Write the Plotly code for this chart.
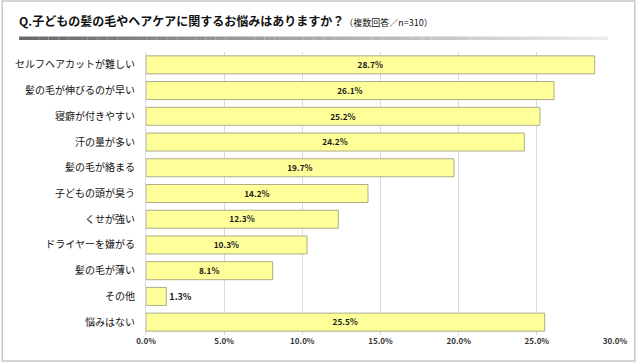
import plotly.graph_objects as go

categories = [
    "セルフヘアカットが難しい",
    "髪の毛が伸びるのが早い",
    "寝癖が付きやすい",
    "汗の量が多い",
    "髪の毛が絡まる",
    "子どもの頭が臭う",
    "くせが強い",
    "ドライヤーを嫌がる",
    "髪の毛が薄い",
    "その他",
    "悩みはない",
]
values = [28.7, 26.1, 25.2, 24.2, 19.7, 14.2, 12.3, 10.3, 8.1, 1.3, 25.5]
tick_vals = [0, 5, 10, 15, 20, 25, 30]
tick_text = ["<b>0.0%</b>", "<b>5.0%</b>", "<b>10.0%</b>", "<b>15.0%</b>",
             "<b>20.0%</b>", "<b>25.0%</b>", "<b>30.0%</b>"]

W, H = 640, 362
ML, MR, MT, MB = 146, 21, 52, 27
PW, PH = W - ML - MR, H - MT - MB

def px(x):
    return (x - ML) / PW

def py(y):
    return (H - MB - y) / PH

FONT = "Noto Sans CJK JP"

fig = go.Figure(
    go.Bar(
        x=values,
        y=categories,
        orientation="h",
        marker=dict(color="#FFFF99", line=dict(color="#ADAD8A", width=1)),
        text=[f"<b>{v:.1f}%</b>" for v in values],
        textposition=["outside" if v < 3 else "inside" for v in values],
        insidetextanchor="middle",
        textfont=dict(family=FONT, size=9, color="#1a1a1a"),
        cliponaxis=False,
        width=0.7,
    )
)

shapes = []
# gradient rule under the title
x0, x1 = 18, 612
n = 60
for i in range(n):
    a = x0 + (x1 - x0) * i / n
    b = x0 + (x1 - x0) * (i + 1) / n
    t = i / (n - 1)
    g = int(105 + (235 - 105) * t)
    shapes.append(dict(type="rect", xref="paper", yref="paper",
                       x0=px(a), x1=px(b), y0=py(40), y1=py(36.5),
                       line=dict(width=0), fillcolor=f"rgb({g},{g},{g})", layer="below"))
# outer frame
shapes.append(dict(type="rect", xref="paper", yref="paper",
                   x0=px(1), x1=px(639), y0=py(361), y1=py(1),
                   line=dict(color="#C8C8C8", width=1.5), fillcolor="rgba(0,0,0,0)"))

fig.update_layout(
    width=W, height=H,
    margin=dict(l=ML, r=MR, t=MT, b=MB),
    paper_bgcolor="white", plot_bgcolor="white",
    showlegend=False,
    bargap=0.3,
    shapes=shapes,
    annotations=[
        dict(xref="paper", yref="paper", x=px(16), y=py(20), xanchor="left", yanchor="middle",
             showarrow=False,
             text="<b>Q.子どもの髪の毛やヘアケアに関するお悩みはありますか？</b>"
                  "<span style='font-size:9px'>（複数回答／n=310）</span>",
             font=dict(family=FONT, size=12, color="#111111")),
    ],
    xaxis=dict(range=[0, 30], tickvals=tick_vals, ticktext=tick_text,
               showgrid=True, gridcolor="#D9D9D9", gridwidth=1, zeroline=False,
               showline=False, ticks="",
               tickfont=dict(family=FONT, size=8, color="#333333")),
    yaxis=dict(autorange="reversed", showgrid=False, zeroline=False,
               showline=True, linecolor="#D9D9D9", ticks="", ticklabelstandoff=8,
               tickfont=dict(family=FONT, size=10, color="#111111")),
)

fig.write_html(
    "out.html",
    config={"displayModeBar": False},
    post_script=(
        "document.documentElement.style.margin='0';"
        "document.documentElement.style.overflow='hidden';"
        "document.body.style.margin='0';"
        "document.body.style.overflow='hidden';"
        "document.body.style.height='362px';"
    ),
)
